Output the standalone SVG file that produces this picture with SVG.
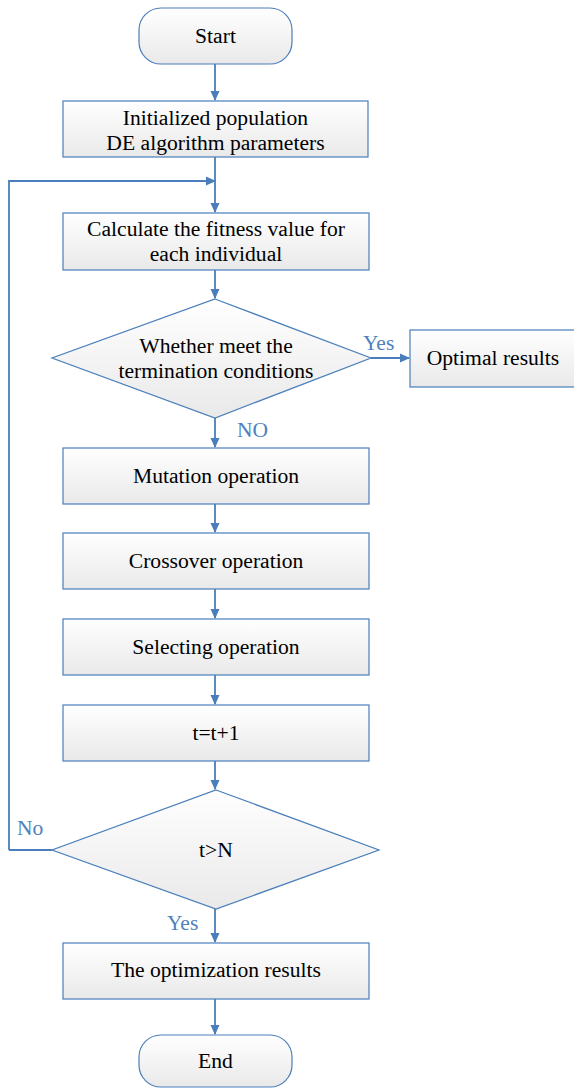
<svg xmlns="http://www.w3.org/2000/svg" width="574" height="1089" viewBox="0 0 574 1089">
<style>
.n{fill:url(#g);stroke:#4a7ebb;stroke-width:1.2}
.t{font-family:"Liberation Serif","Times New Roman",serif;font-size:21.6px;fill:#000;text-anchor:middle}
.l{font-family:"Liberation Serif","Times New Roman",serif;font-size:21.5px;fill:#4f81bd}
.c{fill:none;stroke:#4a7ebb;stroke-width:1.8}
</style>
<defs>
<linearGradient id="g" x1="0" y1="0" x2="0" y2="1">
<stop offset="0" stop-color="#ffffff"/>
<stop offset="1" stop-color="#e9e9e9"/>
</linearGradient>
<marker id="a" markerWidth="10" markerHeight="10" refX="9" refY="5" orient="auto" markerUnits="userSpaceOnUse">
<path d="M0,0.5 L10,5 L0,9.5 z" fill="#4a7ebb"/>
</marker>
</defs>
<g id="connectors">
<path class="c" d="M215,64 V100" marker-end="url(#a)"/>
<path class="c" d="M215,157 V212" marker-end="url(#a)"/>
<path class="c" d="M9,850 V181 H215" marker-end="url(#a)"/>
<path class="c" d="M215,270 V298" marker-end="url(#a)"/>
<path class="c" d="M371,358 H409" marker-end="url(#a)"/>
<path class="c" d="M215,418 V447" marker-end="url(#a)"/>
<path class="c" d="M215,504 V532" marker-end="url(#a)"/>
<path class="c" d="M215,589 V618" marker-end="url(#a)"/>
<path class="c" d="M215,675 V704" marker-end="url(#a)"/>
<path class="c" d="M215,761 V789" marker-end="url(#a)"/>
<path class="c" d="M52,850 H9"/>
<path class="c" d="M215,909 V942" marker-end="url(#a)"/>
<path class="c" d="M215,999 V1034" marker-end="url(#a)"/>
<text class="l" x="363" y="350">Yes</text>
<text class="l" x="237" y="437">NO</text>
<text class="l" x="17" y="835">No</text>
<text class="l" x="167" y="930">Yes</text>
</g>
<g id="start"><rect class="n" x="139" y="8" width="153" height="56" rx="22"/><text class="t" x="215.5" y="43">Start</text></g>
<g id="init"><rect class="n" x="63" y="101" width="305" height="56"/><text class="t" x="215.5" y="125">Initialized population</text><text class="t" x="215.5" y="150">DE algorithm parameters</text></g>
<g id="calc"><rect class="n" x="63" y="213" width="306" height="57"/><text class="t" x="216" y="236">Calculate the fitness value for</text><text class="t" x="216" y="261">each individual</text></g>
<g id="cond"><polygon class="n" points="215,299 371,358 215,418 52,358"/><text class="t" x="216" y="353">Whether meet the</text><text class="t" x="216" y="378">termination conditions</text></g>
<g id="optimal"><rect class="n" x="410" y="330" width="170" height="57"/><text class="t" x="493" y="365">Optimal results</text></g>
<g id="mutation"><rect class="n" x="63" y="448" width="306" height="56"/><text class="t" x="216" y="483">Mutation operation</text></g>
<g id="crossover"><rect class="n" x="63" y="533" width="306" height="56"/><text class="t" x="216" y="568">Crossover operation</text></g>
<g id="selecting"><rect class="n" x="63" y="619" width="306" height="56"/><text class="t" x="216" y="654">Selecting operation</text></g>
<g id="tinc"><rect class="n" x="63" y="705" width="306" height="56"/><text class="t" x="216" y="740">t=t+1</text></g>
<g id="tn"><polygon class="n" points="216,790 379,850 216,909 52,850"/><text class="t" x="216" y="857">t&gt;N</text></g>
<g id="optres"><rect class="n" x="63" y="943" width="306" height="56"/><text class="t" x="216" y="977">The optimization results</text></g>
<g id="end"><rect class="n" x="139" y="1035" width="153" height="52" rx="22"/><text class="t" x="215.5" y="1068">End</text></g>
</svg>
